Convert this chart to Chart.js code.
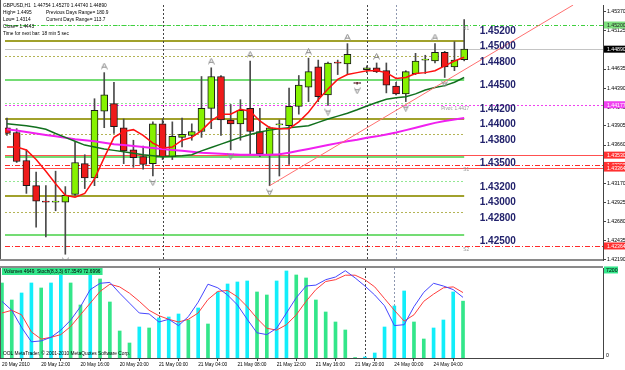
<!DOCTYPE html>
<html>
<head>
<meta charset="utf-8">
<script src="https://cdn.jsdelivr.net/npm/chart.js@4.4.1/dist/chart.umd.min.js"></script>
<style>
  body { margin: 0; background: #fff; }
  #box { position: relative; width: 625px; height: 370px; overflow: hidden; background: #fff; }
  canvas { position: absolute; left: 0; }
</style>
</head>
<body>
<div id="box">
  <canvas id="price" width="625" height="265" style="top:0;width:625px;height:265px"></canvas>
  <canvas id="osc" width="625" height="105" style="top:265px;width:625px;height:105px"></canvas>
</div>
<script>
// GBPUSD H1, 20 May 08:00 .. 24 May 07:00
const opens  = [1.43882,1.43820,1.43461,1.43138,1.42940,1.42927,1.42927,1.43027,1.43421,1.43237,1.44093,1.44192,1.43882,1.43597,1.43510,1.43421,1.43932,1.43510,1.43758,1.43783,1.43833,1.44130,1.44539,1.43981,1.43932,1.44130,1.43833,1.43535,1.43919,1.43907,1.44155,1.44403,1.44663,1.44304,1.44713,1.44701,1.44453,1.44626,1.44651,1.44614,1.44416,1.44316,1.44577,1.44750,1.44738,1.44849,1.44663,1.44754];
const highs  = [1.44006,1.43870,1.43597,1.43312,1.43138,1.43324,1.43126,1.43696,1.43535,1.44254,1.44589,1.44465,1.43994,1.43721,1.43647,1.43957,1.43994,1.43957,1.44006,1.43932,1.44539,1.44651,1.44552,1.44180,1.44242,1.44738,1.44130,1.43895,1.43981,1.44391,1.44552,1.44775,1.44750,1.44725,1.44750,1.44961,1.44465,1.44676,1.44713,1.44713,1.44465,1.44614,1.44837,1.44812,1.44961,1.44862,1.44986,1.45270];
const lows   = [1.43783,1.43436,1.43039,1.42605,1.42481,1.42816,1.42258,1.43014,1.43101,1.43138,1.43882,1.43808,1.43421,1.43374,1.43349,1.43262,1.43473,1.43473,1.43634,1.43721,1.43758,1.43870,1.43783,1.43597,1.43721,1.43535,1.43510,1.43138,1.43262,1.43411,1.44056,1.44217,1.44217,1.44167,1.44564,1.44564,1.44440,1.44589,1.44589,1.44329,1.44304,1.44217,1.44564,1.44577,1.44713,1.44527,1.44614,1.44740];
const closes = [1.43808,1.43448,1.43138,1.42940,1.42927,1.42930,1.43014,1.43436,1.43237,1.44105,1.44304,1.43895,1.43585,1.43498,1.43411,1.43932,1.43510,1.43771,1.43796,1.43833,1.44130,1.44539,1.43981,1.43932,1.44105,1.43833,1.43547,1.43882,1.43920,1.44155,1.44428,1.44601,1.44279,1.44713,1.44710,1.44825,1.44450,1.44651,1.44601,1.44428,1.44316,1.44601,1.44738,1.44752,1.44849,1.44663,1.44750,1.44890];

const maFast = [1.43634,1.43634,1.43597,1.43473,1.43324,1.43163,1.43014,1.42989,1.43039,1.43225,1.43498,1.43758,1.43833,1.43857,1.43783,1.43684,1.43622,1.43634,1.43721,1.43758,1.43845,1.43969,1.44056,1.44056,1.44118,1.44093,1.43969,1.43882,1.43870,1.43870,1.43957,1.44081,1.44242,1.44378,1.44502,1.44564,1.44589,1.44614,1.44614,1.44589,1.44515,1.44527,1.44577,1.44589,1.44614,1.44676,1.44738,1.44787];
const maMid  = [1.43932,1.43919,1.43907,1.43888,1.43863,1.43808,1.43758,1.43709,1.43659,1.43634,1.43609,1.43591,1.43572,1.43553,1.43535,1.43523,1.43510,1.43516,1.43523,1.43535,1.43585,1.43628,1.43671,1.43715,1.43758,1.43795,1.43826,1.43851,1.43870,1.43882,1.43895,1.43907,1.43951,1.43994,1.44031,1.44068,1.44112,1.44161,1.44205,1.44248,1.44267,1.44279,1.44316,1.44366,1.44397,1.44422,1.44465,1.44527];
const maSlow = [1.43861,1.43845,1.43827,1.43808,1.43789,1.43771,1.43752,1.43733,1.43721,1.43709,1.43690,1.43671,1.43659,1.43647,1.43634,1.43622,1.43609,1.43597,1.43585,1.43572,1.43560,1.43553,1.43547,1.43541,1.43535,1.43535,1.43535,1.43535,1.43541,1.43560,1.43585,1.43609,1.43634,1.43659,1.43684,1.43709,1.43727,1.43752,1.43771,1.43796,1.43821,1.43851,1.43882,1.43913,1.43944,1.43969,1.43988,1.44006];

const volumes = [6135,4744,5317,6135,5726,6135,6950,6135,4335,7100,6462,4581,2209,1227,2536,2454,3272,3354,3599,3108,4090,2781,5399,6053,6217,6299,5399,5153,6299,7117,6789,6544,4744,3763,2945,2290,40,80,409,2536,4254,5481,2945,1554,2454,3108,5399,4649];
const stochMain   = [63,53,34,18,19,23,31,42,57,76,83,84,72,61,50,49,40,43,36,46,62,82,78,70,59,43,28,26,33,50,67,80,81,87,90,97,89,80,70,58,36,37,57,73,83,80,76,67.3549];
const stochSignal = [50,53,48,29,21,23,26,35,48,61,74,82,79,72,63,53,47,43,40,43,50,65,74,75,68,57,44,33,31,37,48,63,76,85,87,92,92,87,79,66,53,41,48,63,71,78,79,72.6996];

const fractalUp   = [10, 21, 25, 31, 35, 38, 44];
const fractalDown = [6, 15, 23, 27, 33, 36, 41, 45];
const trendLine   = [{x: 27, y: 1.43138}, {x: 58.2, y: 1.45457}];

const timeLabels = ['20 May 2010','20 May 12:00','20 May 16:00','20 May 20:00','21 May 00:00','21 May 04:00','21 May 08:00','21 May 12:00','21 May 16:00','21 May 20:00','24 May 00:00','24 May 04:00'];
const labelStep = 4;
const daySeparators = [16, 37, 40];

const priceTicks  = [1.45370,1.45125,1.44880,1.44635,1.44390,1.44145,1.43905,1.43660,1.43415,1.43170,1.42925,1.42680,1.42435,1.42190];
const roundLevels = [1.452,1.450,1.448,1.445,1.442,1.440,1.438,1.435,1.432,1.430,1.428,1.425,1.422];
const pivotNames  = ['R1','Pivot: 1.4417','S1','S2'];
const pivotPrices = [1.45200, 1.44177, 1.43398, 1.42364];
const otherLevels = [1.43530, 1.43364];
const lastClose   = 1.44890;

const headerLeft  = ['GBPUSD,H1  1.44754 1.45270 1.44740 1.44890','High= 1.4495','Low= 1.4314','Close= 1.4443','Time for next bar: 18 min 5 sec'];
const headerRight = ['Previous Days Range= 180.9','Current Days Range= 113.7'];

const FONT = '"Liberation Sans", Arial, sans-serif';
const xMin = -0.2, xMax = 61.27;
const idx = closes.map((_, i) => i);

function arrowImage(up) {
  const c = document.createElement('canvas');
  c.width = 7; c.height = 20;
  const g = c.getContext('2d');
  g.strokeStyle = '#8c8c8c'; g.lineWidth = 1;
  g.beginPath();
  if (up) {
    g.moveTo(0.5, 6.5); g.lineTo(3.5, 0.5); g.lineTo(6.5, 6.5);
    g.moveTo(2, 4.5); g.lineTo(5, 4.5);
  } else {
    g.moveTo(0.5, 13.5); g.lineTo(3.5, 19.5); g.lineTo(6.5, 13.5);
    g.moveTo(2, 15.5); g.lineTo(5, 15.5);
  }
  g.stroke();
  return c;
}

function levelStyle(p) {
  const r = Math.round(p * 1e5) % 1000;
  if (r === 0)   return { color: '#a1a12c', width: 2, dash: [] };
  if (r === 500) return { color: '#74dc74', width: 2, dash: [] };
  if (r === 800) return { color: '#b4b456', width: 1, dash: [2, 2] };
  return { color: '#92e892', width: 1, dash: [2, 2] };
}

function hline(ctx, x0, x1, py, color, width, dash) {
  const yy = width % 2 ? Math.round(py) + 0.5 : Math.round(py);
  ctx.beginPath();
  ctx.setLineDash(dash);
  ctx.strokeStyle = color; ctx.lineWidth = width;
  ctx.moveTo(x0, yy); ctx.lineTo(x1, yy);
  ctx.stroke();
}

function separators(ctx, x, a) {
  daySeparators.forEach((d, k) => {
    const px = Math.round(x.getPixelForValue(d)) + 0.5;
    ctx.beginPath();
    ctx.setLineDash([2, 2]);
    ctx.strokeStyle = k === 2 ? '#8e98b0' : '#444';
    ctx.lineWidth = 1;
    ctx.moveTo(px, a.top); ctx.lineTo(px, a.bottom);
    ctx.stroke();
  });
}

function axisBox(ctx, a, py, bg, fg, text) {
  ctx.fillStyle = bg;
  ctx.fillRect(a.right + 1, py - 3.5, 30, 7);
  ctx.fillStyle = fg;
  ctx.textAlign = 'left'; ctx.textBaseline = 'middle';
  ctx.fillText(text, a.right + 4, py + 0.5);
}

const priceDecor = {
  id: 'priceDecor',
  beforeDatasetsDraw(chart) {
    const { ctx, chartArea: a, scales: { x, y } } = chart;
    const xEnd = x.getPixelForValue(closes.length - 1);
    ctx.save();
    ctx.beginPath(); ctx.rect(a.left, a.top, a.right - a.left, a.bottom - a.top); ctx.clip();
    roundLevels.forEach(p => {
      const s = levelStyle(p);
      hline(ctx, a.left, xEnd, y.getPixelForValue(p), s.color, s.width, s.dash);
    });
    hline(ctx, a.left, a.right, y.getPixelForValue(lastClose), '#c4c4c4', 1, []);
    otherLevels.forEach(p => hline(ctx, a.left, a.right, y.getPixelForValue(p), '#ff5050', 1, []));
    hline(ctx, a.left, a.right, y.getPixelForValue(pivotPrices[0]), '#3fcf3f', 1, [4, 2, 1, 2]);
    hline(ctx, a.left, a.right, y.getPixelForValue(pivotPrices[1]), '#f040f0', 1, [2, 2]);
    hline(ctx, a.left, a.right, y.getPixelForValue(pivotPrices[2]), '#ff2a2a', 1, [5, 2, 1, 2]);
    hline(ctx, a.left, a.right, y.getPixelForValue(pivotPrices[3]), '#ff2a2a', 1, [5, 2, 1, 2]);
    separators(ctx, x, a);
    ctx.restore();
  },
  afterDraw(chart) {
    const { ctx, chartArea: a, scales: { x, y } } = chart;
    const xEnd = x.getPixelForValue(closes.length - 1);
    ctx.save();
    // frame
    ctx.setLineDash([]);
    ctx.strokeStyle = '#555'; ctx.lineWidth = 1;
    ctx.beginPath(); ctx.moveTo(0.5, 0); ctx.lineTo(0.5, a.bottom); ctx.stroke();
    ctx.strokeStyle = '#8a8a8a'; ctx.lineWidth = 2;
    ctx.beginPath(); ctx.moveTo(0, a.bottom); ctx.lineTo(a.right, a.bottom); ctx.stroke();

    // big round-number labels
    ctx.font = 'bold 10px ' + FONT;
    ctx.fillStyle = '#22226c';
    ctx.textAlign = 'left'; ctx.textBaseline = 'middle';
    const lx = x.getPixelForValue(48.6);
    roundLevels.forEach(p => {
      const py = y.getPixelForValue(p) + 6;
      if (py < a.bottom - 4) ctx.fillText(p.toFixed(5), lx, py);
    });

    // pivot names
    ctx.font = '4.8px ' + FONT;
    ctx.fillStyle = '#9a9a9a';
    ctx.textAlign = 'right';
    pivotNames.forEach((n, k) => ctx.fillText(n, xEnd + 5, y.getPixelForValue(pivotPrices[k]) + 4));

    // header
    ctx.fillStyle = '#000';
    ctx.textAlign = 'left';
    ctx.font = '4.8px ' + FONT;
    const rows = [6, 13, 20, 27, 33.5];
    headerLeft.forEach((t, k) => ctx.fillText(t, 3, rows[k]));
    headerRight.forEach((t, k) => ctx.fillText(t, 46, rows[k + 1]));

    // axis markers
    ctx.font = '5.2px ' + FONT;
    axisBox(ctx, a, y.getPixelForValue(pivotPrices[0]), '#7ee07e', '#222', pivotPrices[0].toFixed(5));
    axisBox(ctx, a, y.getPixelForValue(lastClose), '#000', '#fff', lastClose.toFixed(5));
    axisBox(ctx, a, y.getPixelForValue(pivotPrices[1]), '#f040f0', '#fff', pivotPrices[1].toFixed(5));
    axisBox(ctx, a, y.getPixelForValue(otherLevels[0]), '#ff3030', '#fff', otherLevels[0].toFixed(5));
    axisBox(ctx, a, y.getPixelForValue(pivotPrices[2]), '#ff3030', '#fff', pivotPrices[2].toFixed(5));
    axisBox(ctx, a, y.getPixelForValue(otherLevels[1]), '#ff3030', '#fff', otherLevels[1].toFixed(5));
    axisBox(ctx, a, y.getPixelForValue(pivotPrices[3]), '#ff3030', '#fff', pivotPrices[3].toFixed(5));
    ctx.restore();
  }
};

new Chart(document.getElementById('price'), {
  type: 'bar',
  data: {
    datasets: [
      { type: 'line', data: fractalUp.map(i => ({ x: i, y: highs[i] })), showLine: false,
        pointStyle: arrowImage(true), pointRadius: 3, order: 0 },
      { type: 'line', data: fractalDown.map(i => ({ x: i, y: lows[i] })), showLine: false,
        pointStyle: arrowImage(false), pointRadius: 3, order: 0 },
      { type: 'line', data: trendLine, borderColor: '#ff7070', borderWidth: 1, pointRadius: 0, order: 1 },
      { type: 'line', data: idx.map(i => ({ x: i, y: maFast[i] })), borderColor: '#ff1010', borderWidth: 1.5, pointRadius: 0, order: 2 },
      { type: 'line', data: idx.map(i => ({ x: i, y: maMid[i] })), borderColor: '#11701e', borderWidth: 1.5, pointRadius: 0, order: 3 },
      { type: 'line', data: idx.map(i => ({ x: i, y: maSlow[i] })), borderColor: '#f020f0', borderWidth: 2, pointRadius: 0, order: 4 },
      { data: idx.map(i => ({ x: i, y: [opens[i], closes[i]] })),
        backgroundColor: idx.map(i => closes[i] >= opens[i] ? '#86f200' : '#ee1a1a'),
        borderColor: '#1a1a1a', borderWidth: 1, borderSkipped: false,
        barThickness: 7, minBarLength: 1, grouped: false, order: 5 },
      { data: idx.map(i => ({ x: i, y: [lows[i], highs[i]] })),
        backgroundColor: '#4a4a4a', barThickness: 1, grouped: false, order: 6 }
    ]
  },
  options: {
    responsive: false, animation: false, devicePixelRatio: 1,
    layout: { padding: { left: 0, right: 0, top: 0, bottom: 1 } },
    plugins: { legend: { display: false }, tooltip: { enabled: false } },
    scales: {
      x: { type: 'linear', min: xMin, max: xMax, offset: false, display: false },
      y: {
        position: 'right', min: 1.42184, max: 1.45457,
        afterBuildTicks: s => { s.ticks = priceTicks.map(v => ({ value: v })); },
        afterFit: s => { s.width = 22; },
        ticks: { autoSkip: false, padding: 1, color: '#000', font: { family: FONT, size: 5.2 },
                 callback: v => v.toFixed(5) },
        grid: { drawOnChartArea: false, tickLength: 3, color: '#444' },
        border: { color: '#444' }
      }
    }
  },
  plugins: [priceDecor]
});

const oscDecor = {
  id: 'oscDecor',
  beforeDatasetsDraw(chart) {
    const { ctx, chartArea: a, scales: { x } } = chart;
    ctx.save();
    separators(ctx, x, a);
    ctx.restore();
  },
  afterDraw(chart) {
    const { ctx, chartArea: a, scales: { vol } } = chart;
    ctx.save();
    ctx.setLineDash([]);
    ctx.strokeStyle = '#555'; ctx.lineWidth = 1;
    ctx.beginPath(); ctx.moveTo(0.5, a.top); ctx.lineTo(0.5, a.bottom); ctx.stroke();
    ctx.strokeStyle = '#8a8a8a'; ctx.lineWidth = 2;
    ctx.beginPath(); ctx.moveTo(0, a.top - 1); ctx.lineTo(a.right, a.top - 1); ctx.stroke();

    ctx.font = '4.8px ' + FONT;
    ctx.textAlign = 'left'; ctx.textBaseline = 'middle';
    const title = 'Volumes ' + volumes[volumes.length - 1] + '  Stoch(8,3,3) ' +
      stochMain[stochMain.length - 1].toFixed(4) + ' ' + stochSignal[stochSignal.length - 1].toFixed(4);
    ctx.fillStyle = '#33e68a';
    ctx.fillRect(2, a.top, ctx.measureText(title).width + 4, 7);
    ctx.fillStyle = '#000';
    ctx.fillText(title, 4, a.top + 3.8);
    ctx.fillText('OOL MetaTrader, \u00a9 2001-2010 MetaQuotes Software Corp.', 3, a.bottom - 4);

    ctx.font = '5.2px ' + FONT;
    const top = vol.getPixelForValue(7200);
    ctx.fillStyle = '#33e68a';
    ctx.fillRect(a.right + 1, top - 3.5, 14, 7);
    ctx.fillStyle = '#000';
    ctx.fillText('7200', a.right + 3, top + 0.5);
    ctx.fillText('0', a.right + 3, vol.getPixelForValue(0) - 2);
    ctx.restore();
  }
};

new Chart(document.getElementById('osc'), {
  type: 'bar',
  data: {
    datasets: [
      { type: 'line', yAxisID: 'st', data: idx.map(i => ({ x: i, y: stochMain[i] })),
        borderColor: '#4646ff', borderWidth: 1, pointRadius: 0, order: 0 },
      { type: 'line', yAxisID: 'st', data: idx.map(i => ({ x: i, y: stochSignal[i] })),
        borderColor: '#ff3c3c', borderWidth: 1, pointRadius: 0, order: 1 },
      { yAxisID: 'vol', data: idx.map(i => ({ x: i, y: volumes[i] })),
        backgroundColor: idx.map(i => i > 0 && volumes[i] > volumes[i - 1] ? '#12eefa' : '#33e68a'),
        barThickness: 3, grouped: false, order: 2 }
    ]
  },
  options: {
    responsive: false, animation: false, devicePixelRatio: 1,
    layout: { padding: { left: 0, right: 0, top: 3, bottom: 0 } },
    plugins: { legend: { display: false }, tooltip: { enabled: false } },
    scales: {
      x: {
        type: 'linear', min: xMin, max: xMax, offset: false,
        afterBuildTicks: s => { s.ticks = timeLabels.map((_, k) => ({ value: k * labelStep })); },
        afterFit: s => { s.height = 12; },
        ticks: { autoSkip: false, maxRotation: 0, align: 'start', padding: 1, color: '#000',
                 font: { family: FONT, size: 4.8 }, callback: (v, k) => timeLabels[k] },
        grid: { drawOnChartArea: false, tickLength: 3, color: '#444' },
        border: { color: '#444' }
      },
      vol: {
        position: 'right', min: 0, max: 7360,
        afterFit: s => { s.width = 22; },
        ticks: { display: false }, grid: { display: false },
        border: { color: '#444' }
      },
      st: { display: false, min: 0, max: 100 }
    }
  },
  plugins: [oscDecor]
});
</script>
</body>
</html>
